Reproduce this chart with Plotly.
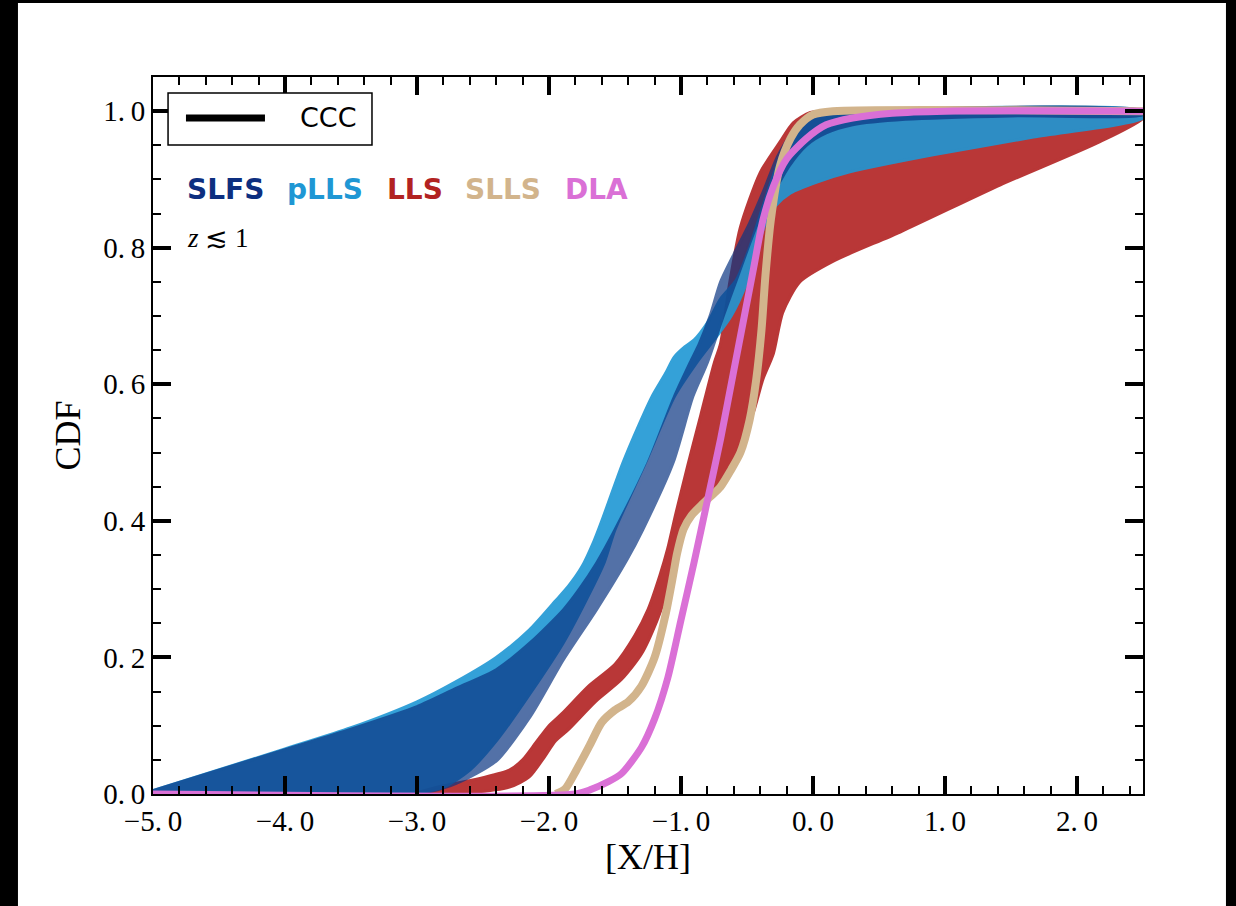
import plotly.graph_objects as go

# ---------------- data ----------------
# pLLS band
plls_hi_x = [-5.0, -4.0, -3.5, -3.0, -2.7, -2.4, -2.15, -1.95, -1.85, -1.75, -1.66, -1.6, -1.44, -1.32, -1.22, -1.12, -1.05, -0.97, -0.9, -0.8, -0.7, -0.58, -0.48, -0.38, -0.25, -0.15, -0.05, 0.1, 0.3, 2.5]
plls_hi_y = [0.005, 0.066, 0.097, 0.135, 0.165, 0.2, 0.24, 0.283, 0.305, 0.333, 0.37, 0.4, 0.485, 0.54, 0.582, 0.615, 0.64, 0.655, 0.665, 0.69, 0.725, 0.753, 0.8, 0.86, 0.933, 0.97, 0.99, 0.997, 1.0, 1.0]
plls_lo_x = [-5.0, -3.1, -2.8, -2.6, -2.39, -2.14, -1.89, -1.69, -1.58, -1.5, -1.27, -1.05, -0.88, -0.75, -0.62, -0.5, -0.36, -0.28, -0.17, 0.03, 0.28, 0.91, 1.67, 2.5]
plls_lo_y = [0.0, 0.0, 0.01, 0.035, 0.08, 0.148, 0.222, 0.295, 0.34, 0.387, 0.485, 0.582, 0.632, 0.665, 0.7, 0.75, 0.836, 0.862, 0.88, 0.896, 0.911, 0.936, 0.962, 0.99]

# SLFS band
slfs_hi_x = [-5.0, -4.0, -3.5, -3.0, -2.7, -2.4, -2.14, -1.89, -1.77, -1.64, -1.5, -1.25, -1.05, -0.93, -0.86, -0.78, -0.7, -0.6, -0.48, -0.37, -0.27, -0.15, 0.0, 0.2, 2.5]
slfs_hi_y = [0.005, 0.065, 0.095, 0.128, 0.155, 0.182, 0.222, 0.27, 0.3, 0.338, 0.387, 0.485, 0.582, 0.632, 0.66, 0.7, 0.75, 0.79, 0.836, 0.885, 0.933, 0.97, 0.993, 1.0, 1.0]
slfs_lo_x = [-5.0, -3.0, -2.75, -2.55, -2.39, -2.14, -1.89, -1.64, -1.41, -1.29, -1.06, -0.91, -0.8, -0.68, -0.58, -0.42, -0.3, -0.18, -0.05, 0.1, 0.3, 0.7, 1.5, 2.5]
slfs_lo_y = [0.0, 0.0, 0.012, 0.03, 0.05, 0.114, 0.197, 0.27, 0.343, 0.387, 0.485, 0.582, 0.632, 0.7, 0.753, 0.836, 0.88, 0.92, 0.95, 0.968, 0.98, 0.988, 0.993, 0.995]

# LLS band
lls_hi_x = [-3.0, -2.8, -2.5, -2.3, -2.2, -2.1, -2.0, -1.9, -1.7, -1.5, -1.35, -1.25, -1.16, -1.1, -1.04, -0.95, -0.85, -0.75, -0.7, -0.63, -0.55, -0.4, -0.25, -0.15, -0.02, 0.2, 2.5]
lls_hi_y = [0.002, 0.012, 0.024, 0.035, 0.05, 0.075, 0.1, 0.118, 0.158, 0.19, 0.232, 0.27, 0.32, 0.36, 0.41, 0.48, 0.555, 0.63, 0.66, 0.75, 0.83, 0.91, 0.955, 0.983, 0.998, 1.0, 1.0]
lls_lo_x = [-3.0, -2.6, -2.3, -2.15, -2.05, -1.95, -1.85, -1.65, -1.45, -1.3, -1.18, -1.1, -1.02, -0.95, -0.85, -0.72, -0.62, -0.52, -0.45, -0.38, -0.3, -0.23, -0.1, 0.15, 0.66, 1.42, 2.17, 2.5]
lls_lo_y = [0.0, 0.002, 0.01, 0.025, 0.05, 0.078, 0.095, 0.135, 0.168, 0.205, 0.255, 0.3, 0.36, 0.395, 0.42, 0.445, 0.48, 0.53, 0.56, 0.607, 0.645, 0.705, 0.75, 0.78, 0.823, 0.892, 0.955, 0.99]

# SLLS curve
slls_x = [-1.95, -1.88, -1.79, -1.69, -1.6, -1.5, -1.4, -1.3, -1.2, -1.12, -1.06, -1.03, -0.98, -0.92, -0.85, -0.78, -0.7, -0.62, -0.55, -0.48, -0.43, -0.39, -0.36, -0.32, -0.25, -0.17, -0.1, 0.0, 0.15, 2.5]
slls_y = [0.0, 0.007, 0.036, 0.072, 0.105, 0.123, 0.135, 0.158, 0.2, 0.26, 0.32, 0.352, 0.388, 0.408, 0.422, 0.435, 0.45, 0.475, 0.5, 0.548, 0.607, 0.68, 0.76, 0.84, 0.92, 0.96, 0.98, 0.995, 1.0, 1.0]

# DLA curve
dla_x = [-5.0, -1.8, -1.69, -1.55, -1.45, -1.3, -1.2, -1.1, -1.0, -0.9, -0.8, -0.7, -0.6, -0.52, -0.45, -0.38, -0.3, -0.2, -0.05, 0.1, 0.3, 0.6, 1.0, 2.5]
dla_y = [0.0, 0.0, 0.006, 0.018, 0.03, 0.068, 0.11, 0.17, 0.255, 0.34, 0.43, 0.52, 0.62, 0.70, 0.77, 0.84, 0.89, 0.93, 0.96, 0.98, 0.99, 0.997, 1.0, 1.0]

x_ticks = [-5.0, -4.0, -3.0, -2.0, -1.0, 0.0, 1.0, 2.0]
x_ticktext = ["\u22125.\u20090", "\u22124.\u20090", "\u22123.\u20090", "\u22122.\u20090", "\u22121.\u20090", "0.\u20090", "1.\u20090", "2.\u20090"]
y_ticks = [0.0, 0.2, 0.4, 0.6, 0.8, 1.0]
y_ticktext = ["0.\u20090", "0.\u20092", "0.\u20094", "0.\u20096", "0.\u20098", "1.\u20090"]

labels = ["SLFS", "pLLS", "LLS", "SLLS", "DLA"]
label_colors = ["#0d2f80", "#1f97d4", "#b22222", "#d2b48c", "#da70d6"]
label_x = [0.0323, 0.1333, 0.2343, 0.3131, 0.4141]

# ---------------- figure ----------------
fig = go.Figure()


def band(hx, hy, lx, ly, color, op):
    fig.add_trace(go.Scatter(
        x=hx + lx[::-1], y=hy + ly[::-1], mode="lines", fill="toself",
        fillcolor=color, line=dict(color=color, width=3, shape="spline", smoothing=0.7),
        opacity=op, hoverinfo="skip", showlegend=False))


band(lls_hi_x, lls_hi_y, lls_lo_x, lls_lo_y, "#b22222", 0.9)
band(plls_hi_x, plls_hi_y, plls_lo_x, plls_lo_y, "#1f97d4", 0.9)
band(slfs_hi_x, slfs_hi_y, slfs_lo_x, slfs_lo_y, "#0b3683", 0.7)

fig.add_trace(go.Scatter(x=slls_x, y=slls_y, mode="lines",
                         line=dict(color="#d2b48c", width=8, shape="spline", smoothing=0.7),
                         hoverinfo="skip", showlegend=False))
fig.add_trace(go.Scatter(x=dla_x, y=dla_y, mode="lines",
                         line=dict(color="#da70d6", width=7, shape="spline", smoothing=0.7),
                         hoverinfo="skip", showlegend=False))

serif = "Liberation Serif"
axis_common = dict(showline=True, linecolor="black", linewidth=2, mirror="allticks",
                   ticks="inside", ticklen=18, tickwidth=3.5, tickcolor="black",
                   showgrid=False, zeroline=False,
                   tickfont=dict(family=serif, size=29, color="black"))

fig.update_xaxes(range=[-5, 2.5], tickvals=x_ticks, ticktext=x_ticktext,
                 minor=dict(ticks="inside", ticklen=8, tickwidth=1.5, dtick=0.2, tick0=0, tickcolor="black"),
                 title=dict(text="[X/H]", font=dict(family=serif, size=36, color="black"), standoff=6),
                 **axis_common)
fig.update_yaxes(range=[0, 1.05], tickvals=y_ticks, ticktext=y_ticktext,
                 minor=dict(ticks="inside", ticklen=8, tickwidth=1.5, dtick=0.05, tick0=0, tickcolor="black"),
                 title=dict(text="CDF", font=dict(family=serif, size=36, color="black"), standoff=12),
                 **axis_common)

shapes = [
    # white figure area over a black page
    dict(type="rect", xref="paper", yref="paper", x0=-0.1364, x1=1.0838, y0=-0.2, y1=1.1031,
         fillcolor="white", line=dict(width=0), layer="below"),
    # legend box
    dict(type="rect", xref="paper", yref="paper", x0=0.0152, x1=0.2212, y0=0.9052, y1=0.9777,
         fillcolor="white", line=dict(color="black", width=1.5), layer="above"),
    dict(type="line", xref="paper", yref="paper", x0=0.0333, x1=0.1131, y0=0.9429, y1=0.9429,
         line=dict(color="black", width=7), layer="above"),
]

annotations = [
    dict(text="CCC", xref="paper", yref="paper", x=0.1465, y=0.9429, xanchor="left", yanchor="middle",
         showarrow=False, font=dict(family="DejaVu Sans", size=27, color="black")),
    dict(text="<i>z</i> \u2272 1", xref="paper", yref="paper", x=0.0323, y=0.7756, xanchor="left",
         yanchor="middle", showarrow=False, font=dict(family=serif, size=27, color="black")),
]
for t, c, lx in zip(labels, label_colors, label_x):
    annotations.append(dict(text="<b>%s</b>" % t, xref="paper", yref="paper", x=lx, y=0.8425,
                            xanchor="left", yanchor="middle", showarrow=False,
                            font=dict(family="DejaVu Sans", size=28, color=c)))

fig.update_layout(
    width=1236, height=906,
    margin=dict(l=153, r=93, t=77, b=112),
    paper_bgcolor="black", plot_bgcolor="white",
    shapes=shapes, annotations=annotations, showlegend=False,
)

fig.write_html("out.html")
